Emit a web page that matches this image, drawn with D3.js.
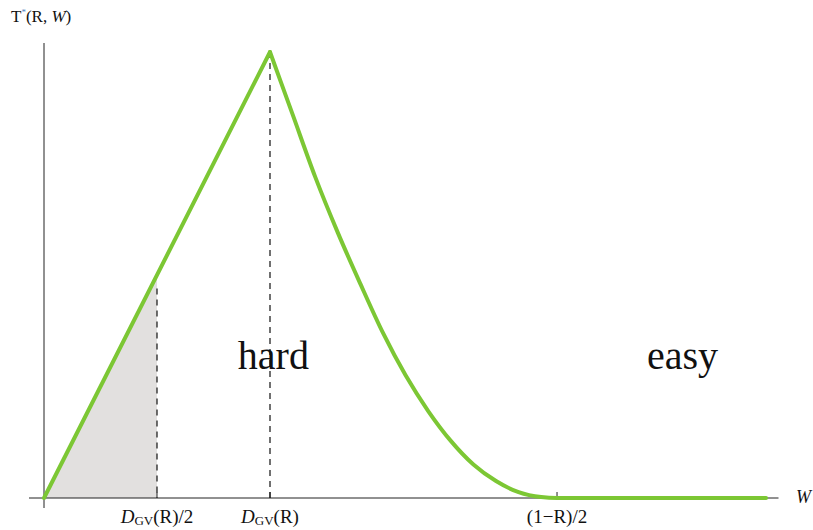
<!DOCTYPE html>
<html>
<head>
<meta charset="utf-8">
<script src="https://cdn.jsdelivr.net/npm/d3@7"></script>
<style>
  body { margin: 0; background: #fff; }
  text { font-family: "Liberation Serif", "DejaVu Serif", serif; }
</style>
</head>
<body>
<svg id="chart" width="813" height="530"></svg>
<script>
// Data (abstract units: D_GV(R) = 0.2, peak value = 1)
const dgv = 0.2;
const oneMinusRHalf = 0.454;
const risePoints = [[0, 0], [0.2, 1.0]];
const fallX = [0.2, 0.22, 0.24, 0.26, 0.28, 0.30, 0.32, 0.34, 0.36, 0.38, 0.40, 0.42, 0.44, 0.454, 0.639];
const fallY = [1.0, 0.86, 0.72, 0.595, 0.48, 0.37, 0.275, 0.195, 0.128, 0.075, 0.038, 0.013, 0.002, 0, 0];
const tickValues = [0.1, 0.2, 0.454];
const tickLabels = [["D", "GV", "(R)/2"], ["D", "GV", "(R)"], [null, null, "(1\u2212R)/2"]];
const regionLabels = [{ text: "hard", x: 0.203, y: 0.29 }, { text: "easy", x: 0.565, y: 0.29 }];

const svg = d3.select("#chart");
const x = d3.scaleLinear().domain([0, 1]).range([44, 1174]);
const y = d3.scaleLinear().domain([0, 1]).range([498, 52]);
const green = "#7cc734";

// shaded area under rising line up to D/2
svg.append("path")
  .attr("d", d3.area().x(d => x(d[0])).y0(y(0)).y1(d => y(d[1]))([[0, 0], [dgv / 2, 0.5]]))
  .attr("fill", "#e2e0df");

// axes
svg.append("line").attr("x1", 29).attr("x2", x(0.65)).attr("y1", y(0)).attr("y2", y(0))
  .attr("stroke", "#222").attr("stroke-width", 1);
svg.append("line").attr("x1", x(0)).attr("x2", x(0)).attr("y1", 43).attr("y2", 508)
  .attr("stroke", "#222").attr("stroke-width", 1);

// ticks
tickValues.forEach(v => {
  svg.append("line").attr("x1", x(v)).attr("x2", x(v)).attr("y1", y(0)).attr("y2", y(0) - 6)
    .attr("stroke", "#222").attr("stroke-width", 1);
});

// dashed lines
svg.append("line").attr("x1", x(dgv / 2)).attr("x2", x(dgv / 2)).attr("y1", y(0.47)).attr("y2", y(0))
  .attr("stroke", "#111").attr("stroke-width", 1.2).attr("stroke-dasharray", "6,5");
svg.append("line").attr("x1", x(dgv)).attr("x2", x(dgv)).attr("y1", y(1)).attr("y2", y(0))
  .attr("stroke", "#111").attr("stroke-width", 1.2).attr("stroke-dasharray", "6,5");

// curve
svg.append("path")
  .attr("d", d3.line().x(d => x(d[0])).y(d => y(d[1]))(risePoints))
  .attr("fill", "none").attr("stroke", green).attr("stroke-width", 4).attr("stroke-linecap", "round");
const fall = fallX.map((v, i) => [v, fallY[i]]);
svg.append("path")
  .attr("d", d3.line().x(d => x(d[0])).y(d => y(d[1])).curve(d3.curveMonotoneX)(fall))
  .attr("fill", "none").attr("stroke", green).attr("stroke-width", 4).attr("stroke-linecap", "round");

// tick labels
tickValues.forEach((v, i) => {
  const [a, sub, rest] = tickLabels[i];
  const t = svg.append("text").attr("x", x(v)).attr("y", 523).attr("text-anchor", "middle")
    .attr("font-size", 19).attr("fill", "#111");
  if (a) {
    t.append("tspan").attr("font-style", "italic").text(a);
    t.append("tspan").attr("font-size", 13).attr("dy", 2).text(sub);
    t.append("tspan").attr("dy", -2).text(rest);
  } else {
    t.text(rest);
  }
});

// axis labels
svg.append("text").attr("x", 796).attr("y", 503).attr("font-size", 18).attr("font-style", "italic")
  .attr("fill", "#111").text("W");
const yl = svg.append("text").attr("x", 11).attr("y", 22).attr("font-size", 17).attr("fill", "#111");
yl.append("tspan").text("T");
yl.append("tspan").attr("font-size", 9).attr("dy", -7).attr("fill", "#4a7fc0").text("*");
yl.append("tspan").attr("dy", 7).text("(R, ");
yl.append("tspan").attr("font-style", "italic").text("W");
yl.append("tspan").text(")");

// region labels
regionLabels.forEach(r => {
  svg.append("text").attr("x", x(r.x)).attr("y", y(r.y)).attr("text-anchor", "middle")
    .attr("font-size", 40).attr("fill", "#111").text(r.text);
});
</script>
</body>
</html>
